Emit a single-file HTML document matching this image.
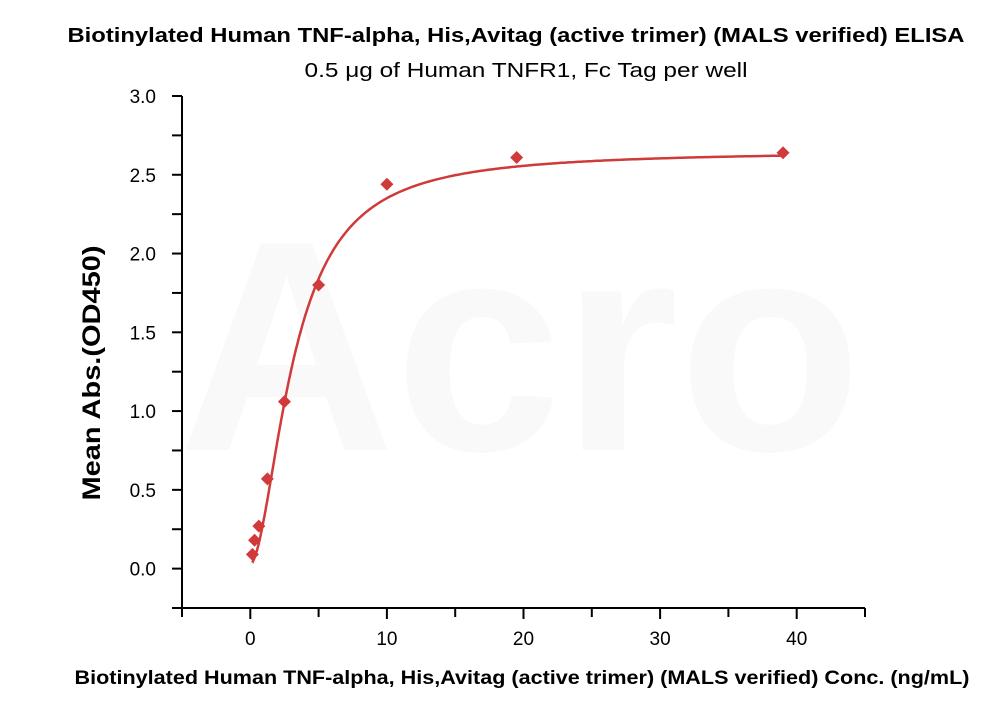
<!DOCTYPE html>
<html><head><meta charset="utf-8"><style>
html,body{margin:0;padding:0;background:#fff;}
svg text{font-family:"Liberation Sans",sans-serif;}
</style></head><body>
<svg id="chart" width="1000" height="714" viewBox="0 0 1000 714" xmlns="http://www.w3.org/2000/svg">
<text x="520" y="450" font-size="300" fill="#f9f9f9" text-anchor="middle" font-weight="bold">Acro</text>
<text x="516" y="42" font-size="20" font-weight="bold" text-anchor="middle" textLength="897" lengthAdjust="spacingAndGlyphs">Biotinylated Human TNF-alpha, His,Avitag (active trimer) (MALS verified) ELISA</text>
<text x="526" y="77" font-size="20" text-anchor="middle" textLength="443" lengthAdjust="spacingAndGlyphs">0.5 μg of Human TNFR1, Fc Tag per well</text>
<text x="522" y="684" font-size="19" font-weight="bold" text-anchor="middle" textLength="895" lengthAdjust="spacingAndGlyphs">Biotinylated Human TNF-alpha, His,Avitag (active trimer) (MALS verified) Conc. (ng/mL)</text>
<text transform="translate(100,373) rotate(-90)" font-size="25" font-weight="bold" text-anchor="middle" textLength="255" lengthAdjust="spacingAndGlyphs">Mean Abs.(OD450)</text>
<g id="axes"></g><g id="plot"></g>
</svg>
<script>
const xConc=[0.156,0.3125,0.625,1.25,2.5,5,10,19.5,39];
const yAbs=[0.09,0.18,0.27,0.57,1.06,1.80,2.44,2.61,2.64];
const xTicks=[0,10,20,30,40];
const yTicks=[0.0,0.5,1.0,1.5,2.0,2.5,3.0];
const fitParams=[0.03,2.65,3.2,1.8]; // A (bottom), D (top), C (EC50), B (hill)
const NS="http://www.w3.org/2000/svg";
const X0=182,X1=865,Y0=608,Y1=96;
const xMin=-5,xMax=45,yMin=-0.25,yMax=3.0;
const sx=v=>X0+(v-xMin)/(xMax-xMin)*(X1-X0);
const sy=v=>Y0-(v-yMin)/(yMax-yMin)*(Y0-Y1);
function mk(t,a,p){const e=document.createElementNS(NS,t);for(const k in a)e.setAttribute(k,a[k]);p.appendChild(e);return e;}
const ax=document.getElementById('axes'),pl=document.getElementById('plot');
let l=mk('line',{x1:X0,y1:Y0,x2:X1,y2:Y0,stroke:'#000','stroke-width':2},ax);


l=mk('line',{x1:X0,y1:Y0+1,x2:X0,y2:Y1,stroke:'#000','stroke-width':2},ax);


for(let v=xMin;v<=xMax;v+=5){const t=mk('line',{x1:sx(v),y1:Y0,x2:sx(v),y2:Y0+(v%10===0?11:9),stroke:'#000','stroke-width':2},ax);

}
xTicks.forEach(v=>{const t=mk('text',{x:sx(v),y:Y0+37,'font-size':19,'text-anchor':'middle'},ax);t.textContent=v;

});
for(let v=yMin;v<=yMax+1e-9;v+=0.25){const t=mk('line',{x1:X0,y1:sy(v),x2:X0-10,y2:sy(v),stroke:'#000','stroke-width':2},ax);

}
yTicks.forEach(v=>{const t=mk('text',{x:X0-26,y:sy(v)+7,'font-size':19,'text-anchor':'end'},ax);t.textContent=v.toFixed(1);

});
const [A,D,C,B]=fitParams;
const f=x=>A+(D-A)*Math.pow(x/C,B)/(1+Math.pow(x/C,B));
let d='';const xs0=xConc[0],xs1=xConc[xConc.length-1];
for(let i=0;i<=300;i++){const x=xs0+(xs1-xs0)*Math.pow(i/300,2);d+=(i?'L':'M')+sx(x).toFixed(1)+','+sy(f(x)).toFixed(1);}
const c=mk('path',{d:d,fill:'none',stroke:'#d03a3a','stroke-width':2.5},pl);


xConc.forEach((x,i)=>{const cx=sx(x),cy=sy(yAbs[i]),r=6.5;
const p=mk('polygon',{points:`${cx},${cy-r} ${cx+r},${cy} ${cx},${cy+r} ${cx-r},${cy}`,fill:'#d03a3a'},pl);

});
</script>
</body></html>
